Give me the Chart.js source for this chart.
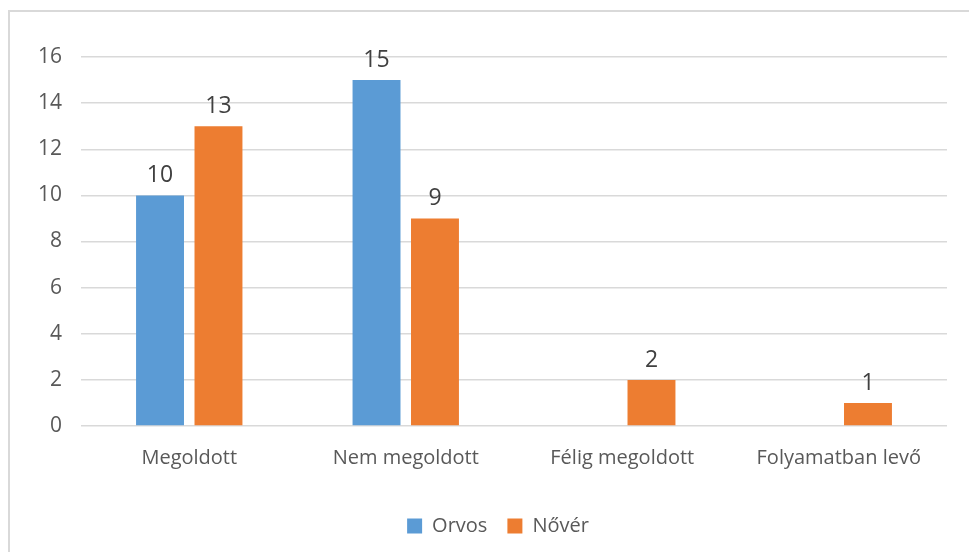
<!DOCTYPE html>
<html>
<head>
<meta charset="utf-8">
<script src="https://cdn.jsdelivr.net/npm/chart.js@4"></script>
<style>
  html, body { margin: 0; padding: 0; background: #fff; overflow: hidden; }
  #frame { position: absolute; left: 8px; top: 10px; width: 990px; height: 580px; border: 2px solid #d9d9d9; }
  #wrap { position: absolute; left: 0; top: 0; width: 969px; height: 552px; }
</style>
</head>
<body>
<div id="frame"></div>
<div id="wrap"><canvas id="chart" width="969" height="552"></canvas></div>
<script>
// Chart data
const categories = ['Megoldott', 'Nem megoldott', 'Félig megoldott', 'Folyamatban levő'];
const orvosValues = [10, 15, 0, 0];
const noverValues = [13, 9, 2, 1];
const yTicks = [0, 2, 4, 6, 8, 10, 12, 14, 16];

const FONT = "'Open Sans', 'DejaVu Sans', sans-serif";

// draws the value above each non-zero bar
const valueLabels = {
    id: 'valueLabels',
    afterDatasetsDraw: function(chart) {
        const ctx = chart.ctx;
        ctx.save();
        ctx.font = '23px ' + FONT;
        ctx.fillStyle = '#404040';
        ctx.textAlign = 'center';
        ctx.textBaseline = 'alphabetic';
        chart.data.datasets.forEach(function(ds, i) {
            const meta = chart.getDatasetMeta(i);
            meta.data.forEach(function(bar, j) {
                const v = ds.data[j];
                if (!v) return;
                ctx.fillText(String(v), bar.x, bar.y - 13);
            });
        });
        ctx.restore();
    }
};

// legend is centred under the plot area, not the whole canvas
const legendShift = {
    id: 'legendShift',
    afterLayout: function(chart) {
        if (chart.legend) {
            chart.legend.left += 49;
        }
    }
};

const ctx = document.getElementById('chart');
new Chart(ctx, {
    type: 'bar',
    data: {
        labels: categories,
        datasets: [{
            label: 'Orvos',
            data: orvosValues,
            backgroundColor: '#5B9BD5',
            categoryPercentage: 0.54,
            barPercentage: 0.82
        }, {
            label: 'Nővér',
            data: noverValues,
            backgroundColor: '#ED7D31',
            categoryPercentage: 0.54,
            barPercentage: 0.82
        }]
    },
    options: {
        responsive: false,
        animation: false,
        layout: {
            padding: { top: 57, right: 22, bottom: 6, left: 0 }
        },
        scales: {
            x: {
                grid: { display: false, drawTicks: false },
                border: { display: false },
                ticks: {
                    color: '#595959',
                    font: { family: FONT, size: 20 },
                    padding: 20,
                    maxRotation: 0
                },
                afterFit: function(scale) { scale.height = 70; }
            },
            y: {
                min: 0,
                max: 16,
                afterBuildTicks: function(scale) {
                    scale.ticks = yTicks.map(function(v) { return { value: v }; });
                },
                grid: { color: '#d9d9d9', lineWidth: 1.5, drawTicks: false },
                border: { display: false },
                ticks: {
                    color: '#595959',
                    font: { family: FONT, size: 21 },
                    padding: 19
                },
                afterFit: function(scale) { scale.width = 81; }
            }
        },
        plugins: {
            legend: {
                position: 'bottom',
                labels: {
                    color: '#595959',
                    font: { family: FONT, size: 20 },
                    boxWidth: 15,
                    boxHeight: 15,
                    padding: 20
                }
            },
            tooltip: { enabled: false }
        }
    },
    plugins: [valueLabels, legendShift]
});
</script>
</body>
</html>
